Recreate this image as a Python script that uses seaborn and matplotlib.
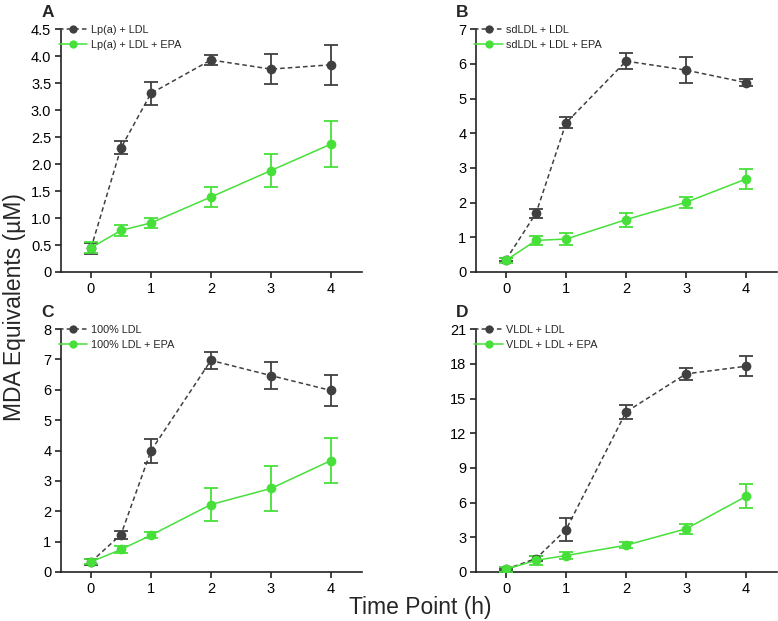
"""
MDA equivalents over time, with and without EPA (4 panels)
"""
import numpy as np
import pandas as pd
import seaborn as sns
import matplotlib.pyplot as plt

time_h = [0, 0.5, 1, 2, 3, 4]

# panel A: Lp(a) + LDL
a_ctrl = [0.44, 2.30, 3.31, 3.93, 3.76, 3.84]
a_ctrl_err = [0.10, 0.12, 0.21, 0.10, 0.28, 0.37]
a_epa = [0.45, 0.77, 0.91, 1.39, 1.88, 2.37]
a_epa_err = [0.10, 0.11, 0.10, 0.19, 0.31, 0.43]

# panel B: sdLDL + LDL
b_ctrl = [0.36, 1.70, 4.30, 6.08, 5.82, 5.46]
b_ctrl_err = [0.05, 0.13, 0.16, 0.24, 0.37, 0.10]
b_epa = [0.34, 0.91, 0.95, 1.51, 2.01, 2.68]
b_epa_err = [0.07, 0.13, 0.16, 0.20, 0.16, 0.30]

# panel C: 100% LDL
c_ctrl = [0.33, 1.23, 3.99, 6.97, 6.47, 5.98]
c_ctrl_err = [0.10, 0.13, 0.40, 0.27, 0.45, 0.52]
c_epa = [0.33, 0.74, 1.21, 2.22, 2.75, 3.67]
c_epa_err = [0.08, 0.12, 0.09, 0.53, 0.73, 0.73]

# panel D: VLDL + LDL
d_ctrl = [0.23, 1.16, 3.67, 13.84, 17.13, 17.79]
d_ctrl_err = [0.10, 0.20, 1.00, 0.64, 0.50, 0.85]
d_epa = [0.23, 1.01, 1.42, 2.31, 3.73, 6.53]
d_epa_err = [0.20, 0.40, 0.33, 0.26, 0.45, 1.04]

panel_letters = ["A", "B", "C", "D"]
ctrl_labels = ["Lp(a) + LDL", "sdLDL + LDL", "100% LDL", "VLDL + LDL"]
epa_labels = ["Lp(a) + LDL + EPA", "sdLDL + LDL + EPA", "100% LDL + EPA", "VLDL + LDL + EPA"]
y_max = [4.5, 7, 8, 21]
y_ticks = [
    [0, 0.5, 1.0, 1.5, 2.0, 2.5, 3.0, 3.5, 4.0, 4.5],
    [0, 1, 2, 3, 4, 5, 6, 7],
    [0, 1, 2, 3, 4, 5, 6, 7, 8],
    [0, 3, 6, 9, 12, 15, 18, 21],
]
y_ticklabels = [
    ["0", "0.5", "1.0", "1.5", "2.0", "2.5", "3.0", "3.5", "4.0", "4.5"],
    None, None, None,
]

GREY = "#404040"
GREEN = "#47e03a"

sns.set_style("ticks")
plt.rcParams['font.family'] = ['Liberation Sans', 'DejaVu Sans']


def draw_panel(ax, ctrl, ctrl_err, epa, epa_err, lab_c, lab_e, ymax, ticks, ticklabels, letter):
    df = pd.DataFrame({
        "time": time_h * 2,
        "mda": ctrl + epa,
        "group": [lab_c] * len(time_h) + [lab_e] * len(time_h),
    })
    # error bars first, so points sit on top
    ax.errorbar(time_h, ctrl, yerr=ctrl_err, fmt="none", ecolor=GREY,
                elinewidth=1.3, capsize=5, capthick=1.3, zorder=2)
    ax.errorbar(time_h, epa, yerr=epa_err, fmt="none", ecolor=GREEN,
                elinewidth=1.3, capsize=5, capthick=1.3, zorder=3)
    sns.lineplot(data=df, x="time", y="mda", hue="group", style="group",
                 palette=[GREY, GREEN], dashes=[(3, 2), ""], markers=["o", "o"],
                 markersize=7, markeredgewidth=0, linewidth=1.1, ax=ax, zorder=4)

    ax.set_xlim(-0.5, 4.52)
    ax.set_ylim(0, ymax)
    ax.set_xticks([0, 1, 2, 3, 4])
    ax.set_yticks(ticks)
    if ticklabels is not None:
        ax.set_yticklabels(ticklabels)
    ax.set_xlabel("")
    ax.set_ylabel("")
    ax.tick_params(labelsize=10.5, length=4, width=1.2, color="#222222",
                   labelcolor="black", pad=3)
    for side in ["left", "bottom"]:
        ax.spines[side].set_linewidth(1.2)
        ax.spines[side].set_color("#222222")
    sns.despine(ax=ax)

    ax.legend(loc="upper left", bbox_to_anchor=(-0.02, 1.035), frameon=False,
              fontsize=7.8, handlelength=2.6, handletextpad=0.3,
              labelspacing=0.45, borderaxespad=0, markerscale=0.85)
    ax.text(-0.045, 1.07, letter, transform=ax.transAxes, fontsize=12.5,
            fontweight="bold", ha="center", va="center")


fig = plt.figure(figsize=(7.78, 6.21), dpi=100)
positions = [
    [0.0784, 0.562, 0.387, 0.391],
    [0.612, 0.562, 0.387, 0.391],
    [0.0784, 0.079, 0.387, 0.391],
    [0.612, 0.079, 0.387, 0.391],
]
panels = [
    (a_ctrl, a_ctrl_err, a_epa, a_epa_err),
    (b_ctrl, b_ctrl_err, b_epa, b_epa_err),
    (c_ctrl, c_ctrl_err, c_epa, c_epa_err),
    (d_ctrl, d_ctrl_err, d_epa, d_epa_err),
]
for i, (ctrl, ctrl_err, epa, epa_err) in enumerate(panels):
    ax = fig.add_axes(positions[i])
    draw_panel(ax, ctrl, ctrl_err, epa, epa_err, ctrl_labels[i], epa_labels[i],
               y_max[i], y_ticks[i], y_ticklabels[i], panel_letters[i])

fig.text(0.019, 0.505, "MDA Equivalents (µM)", rotation=90, fontsize=16.5,
         ha="center", va="center")
fig.text(0.54, 0.022, "Time Point (h)", fontsize=16.5, ha="center", va="center")

fig.savefig("out.png", dpi=100)
